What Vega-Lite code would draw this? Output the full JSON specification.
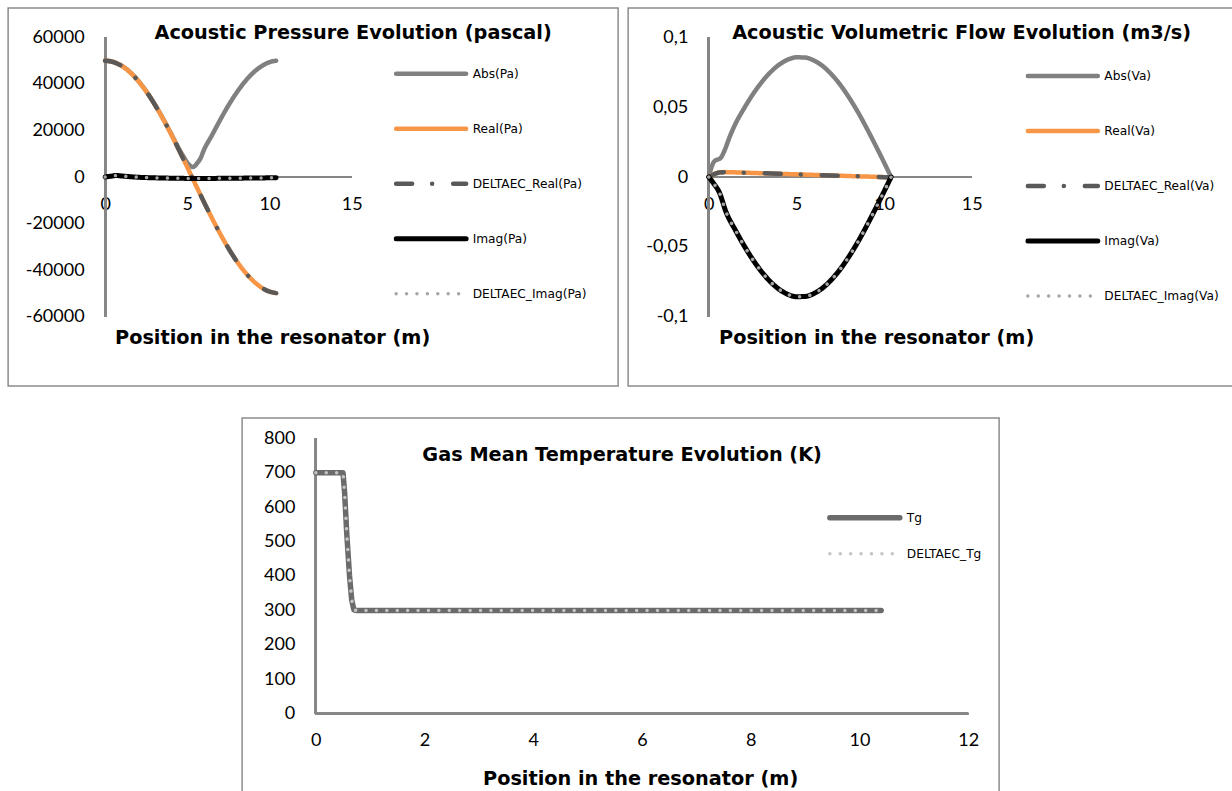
{
  "$schema": "https://vega.github.io/schema/vega-lite/v6.json",
  "padding": {"left": 7, "top": 7, "right": 0, "bottom": 0},
  "config": {
    "view": {"stroke": "#8c8c8c", "strokeWidth": 1.5},
    "font": "Lato",
    "axis": {"domain": false, "ticks": false, "tickSize": 0, "grid": false, "labelFont": "Lato", "labelFontSize": 18, "labelColor": "#000", "labelOverlap": false, "labelFlush": false, "titleFont": "DejaVu Sans", "titleFontSize": 19.3, "titleFontWeight": "bold", "titleColor": "#000", "titleAlign": "center", "titleBaseline": "middle"},
    "axisX": {"labelPadding": 18},
    "axisY": {"labelPadding": 21},
    "legend": {"orient": "none", "padding": 0, "symbolType": "stroke", "symbolSize": 4900, "clipHeight": 20, "labelFont": "DejaVu Sans", "labelFontSize": 12.2, "labelColor": "#000", "labelOffset": 4},
    "title": {"font": "DejaVu Sans", "fontSize": 19.3, "fontWeight": "bold", "color": "#000", "anchor": "middle", "baseline": "middle", "frame": "group"}
  },
  "datasets": {
    "pa": [
      {"x":0,"y":50100,"s":"Abs(Pa)"},{"x":0.5,"y":49550,"s":"Abs(Pa)"},{"x":1,"y":47900,"s":"Abs(Pa)"},{"x":1.5,"y":45200,"s":"Abs(Pa)"},{"x":2,"y":41500,"s":"Abs(Pa)"},{"x":2.5,"y":36900,"s":"Abs(Pa)"},{"x":3,"y":31500,"s":"Abs(Pa)"},{"x":3.5,"y":25400,"s":"Abs(Pa)"},{"x":4,"y":18800,"s":"Abs(Pa)"},{"x":4.5,"y":12000,"s":"Abs(Pa)"},{"x":4.8,"y":8400,"s":"Abs(Pa)"},{"x":5.0,"y":6100,"s":"Abs(Pa)"},{"x":5.15,"y":5000,"s":"Abs(Pa)"},{"x":5.3,"y":4300,"s":"Abs(Pa)"},{"x":5.45,"y":4700,"s":"Abs(Pa)"},{"x":5.6,"y":6000,"s":"Abs(Pa)"},{"x":5.8,"y":8000,"s":"Abs(Pa)"},{"x":6.0,"y":11500,"s":"Abs(Pa)"},{"x":6.5,"y":18000,"s":"Abs(Pa)"},{"x":7,"y":24600,"s":"Abs(Pa)"},{"x":7.5,"y":30800,"s":"Abs(Pa)"},{"x":8,"y":36300,"s":"Abs(Pa)"},{"x":8.5,"y":41000,"s":"Abs(Pa)"},{"x":9,"y":44800,"s":"Abs(Pa)"},{"x":9.5,"y":47600,"s":"Abs(Pa)"},{"x":10,"y":49400,"s":"Abs(Pa)"},{"x":10.4,"y":50000,"s":"Abs(Pa)"},
      {"x":0,"y":50000,"s":"Real(Pa)"},{"x":0.5,"y":49448,"s":"Real(Pa)"},{"x":1,"y":47804,"s":"Real(Pa)"},{"x":1.5,"y":45104,"s":"Real(Pa)"},{"x":2,"y":41409,"s":"Real(Pa)"},{"x":2.5,"y":36795,"s":"Real(Pa)"},{"x":3,"y":31369,"s":"Real(Pa)"},{"x":3.5,"y":25252,"s":"Real(Pa)"},{"x":4,"y":18583,"s":"Real(Pa)"},{"x":4.5,"y":11490,"s":"Real(Pa)"},{"x":5,"y":4161,"s":"Real(Pa)"},{"x":5.5,"y":-3268,"s":"Real(Pa)"},{"x":6,"y":-10626,"s":"Real(Pa)"},{"x":6.5,"y":-17747,"s":"Real(Pa)"},{"x":7,"y":-24478,"s":"Real(Pa)"},{"x":7.5,"y":-30679,"s":"Real(Pa)"},{"x":8,"y":-36188,"s":"Real(Pa)"},{"x":8.5,"y":-40886,"s":"Real(Pa)"},{"x":9,"y":-44658,"s":"Real(Pa)"},{"x":9.5,"y":-47504,"s":"Real(Pa)"},{"x":10,"y":-49299,"s":"Real(Pa)"},{"x":10.4,"y":-49936,"s":"Real(Pa)"},
      {"x":0,"y":50000,"s":"DELTAEC_Real(Pa)"},{"x":0.5,"y":49448,"s":"DELTAEC_Real(Pa)"},{"x":1,"y":47804,"s":"DELTAEC_Real(Pa)"},{"x":1.5,"y":45104,"s":"DELTAEC_Real(Pa)"},{"x":2,"y":41409,"s":"DELTAEC_Real(Pa)"},{"x":2.5,"y":36795,"s":"DELTAEC_Real(Pa)"},{"x":3,"y":31369,"s":"DELTAEC_Real(Pa)"},{"x":3.5,"y":25252,"s":"DELTAEC_Real(Pa)"},{"x":4,"y":18583,"s":"DELTAEC_Real(Pa)"},{"x":4.5,"y":11490,"s":"DELTAEC_Real(Pa)"},{"x":5,"y":4161,"s":"DELTAEC_Real(Pa)"},{"x":5.5,"y":-3268,"s":"DELTAEC_Real(Pa)"},{"x":6,"y":-10626,"s":"DELTAEC_Real(Pa)"},{"x":6.5,"y":-17747,"s":"DELTAEC_Real(Pa)"},{"x":7,"y":-24478,"s":"DELTAEC_Real(Pa)"},{"x":7.5,"y":-30679,"s":"DELTAEC_Real(Pa)"},{"x":8,"y":-36188,"s":"DELTAEC_Real(Pa)"},{"x":8.5,"y":-40886,"s":"DELTAEC_Real(Pa)"},{"x":9,"y":-44658,"s":"DELTAEC_Real(Pa)"},{"x":9.5,"y":-47504,"s":"DELTAEC_Real(Pa)"},{"x":10,"y":-49299,"s":"DELTAEC_Real(Pa)"},{"x":10.4,"y":-49936,"s":"DELTAEC_Real(Pa)"},
      {"x":0,"y":0,"s":"Imag(Pa)"},{"x":0.35,"y":350,"s":"Imag(Pa)"},{"x":0.7,"y":650,"s":"Imag(Pa)"},{"x":1.0,"y":450,"s":"Imag(Pa)"},{"x":1.5,"y":150,"s":"Imag(Pa)"},{"x":2,"y":-100,"s":"Imag(Pa)"},{"x":3,"y":-350,"s":"Imag(Pa)"},{"x":4,"y":-500,"s":"Imag(Pa)"},{"x":5,"y":-600,"s":"Imag(Pa)"},{"x":6,"y":-620,"s":"Imag(Pa)"},{"x":7,"y":-580,"s":"Imag(Pa)"},{"x":8,"y":-520,"s":"Imag(Pa)"},{"x":9,"y":-430,"s":"Imag(Pa)"},{"x":10,"y":-350,"s":"Imag(Pa)"},{"x":10.4,"y":-300,"s":"Imag(Pa)"},
      {"x":0,"y":0,"s":"DELTAEC_Imag(Pa)"},{"x":0.35,"y":350,"s":"DELTAEC_Imag(Pa)"},{"x":0.7,"y":650,"s":"DELTAEC_Imag(Pa)"},{"x":1.0,"y":450,"s":"DELTAEC_Imag(Pa)"},{"x":1.5,"y":150,"s":"DELTAEC_Imag(Pa)"},{"x":2,"y":-100,"s":"DELTAEC_Imag(Pa)"},{"x":3,"y":-350,"s":"DELTAEC_Imag(Pa)"},{"x":4,"y":-500,"s":"DELTAEC_Imag(Pa)"},{"x":5,"y":-600,"s":"DELTAEC_Imag(Pa)"},{"x":6,"y":-620,"s":"DELTAEC_Imag(Pa)"},{"x":7,"y":-580,"s":"DELTAEC_Imag(Pa)"},{"x":8,"y":-520,"s":"DELTAEC_Imag(Pa)"},{"x":9,"y":-430,"s":"DELTAEC_Imag(Pa)"},{"x":10,"y":-350,"s":"DELTAEC_Imag(Pa)"},{"x":10.4,"y":-300,"s":"DELTAEC_Imag(Pa)"}
    ],
    "va": [
      {"x":0,"y":0,"s":"Abs(Va)"},{"x":0.3,"y":0.011,"s":"Abs(Va)"},{"x":0.7,"y":0.014,"s":"Abs(Va)"},{"x":0.9,"y":0.019,"s":"Abs(Va)"},{"x":1.2,"y":0.029,"s":"Abs(Va)"},{"x":1.5,"y":0.0376,"s":"Abs(Va)"},{"x":2,"y":0.0489,"s":"Abs(Va)"},{"x":2.5,"y":0.059,"s":"Abs(Va)"},{"x":3,"y":0.0677,"s":"Abs(Va)"},{"x":3.5,"y":0.0749,"s":"Abs(Va)"},{"x":4,"y":0.0804,"s":"Abs(Va)"},{"x":4.5,"y":0.0841,"s":"Abs(Va)"},{"x":5,"y":0.0858,"s":"Abs(Va)"},{"x":5.5,"y":0.0856,"s":"Abs(Va)"},{"x":6,"y":0.0835,"s":"Abs(Va)"},{"x":6.5,"y":0.0795,"s":"Abs(Va)"},{"x":7,"y":0.0736,"s":"Abs(Va)"},{"x":7.5,"y":0.0661,"s":"Abs(Va)"},{"x":8,"y":0.057,"s":"Abs(Va)"},{"x":8.5,"y":0.0467,"s":"Abs(Va)"},{"x":9,"y":0.0352,"s":"Abs(Va)"},{"x":9.5,"y":0.023,"s":"Abs(Va)"},{"x":10,"y":0.0104,"s":"Abs(Va)"},{"x":10.4,"y":0,"s":"Abs(Va)"},
      {"x":0,"y":0,"s":"Real(Va)"},{"x":0.3,"y":0.002,"s":"Real(Va)"},{"x":0.6,"y":0.0033,"s":"Real(Va)"},{"x":0.9,"y":0.0035,"s":"Real(Va)"},{"x":2,"y":0.0031,"s":"Real(Va)"},{"x":4,"y":0.0023,"s":"Real(Va)"},{"x":6,"y":0.0015,"s":"Real(Va)"},{"x":8,"y":0.0007,"s":"Real(Va)"},{"x":10,"y":-0.0001,"s":"Real(Va)"},{"x":10.4,"y":-0.0003,"s":"Real(Va)"},
      {"x":0,"y":0,"s":"DELTAEC_Real(Va)"},{"x":0.3,"y":0.002,"s":"DELTAEC_Real(Va)"},{"x":0.6,"y":0.0033,"s":"DELTAEC_Real(Va)"},{"x":0.9,"y":0.0035,"s":"DELTAEC_Real(Va)"},{"x":2,"y":0.0031,"s":"DELTAEC_Real(Va)"},{"x":4,"y":0.0023,"s":"DELTAEC_Real(Va)"},{"x":6,"y":0.0015,"s":"DELTAEC_Real(Va)"},{"x":8,"y":0.0007,"s":"DELTAEC_Real(Va)"},{"x":10,"y":-0.0001,"s":"DELTAEC_Real(Va)"},{"x":10.4,"y":-0.0003,"s":"DELTAEC_Real(Va)"},
      {"x":0,"y":0,"s":"Imag(Va)"},{"x":0.3,"y":-0.005,"s":"Imag(Va)"},{"x":0.6,"y":-0.011,"s":"Imag(Va)"},{"x":1,"y":-0.0256,"s":"Imag(Va)"},{"x":1.5,"y":-0.0377,"s":"Imag(Va)"},{"x":2,"y":-0.0489,"s":"Imag(Va)"},{"x":2.5,"y":-0.059,"s":"Imag(Va)"},{"x":3,"y":-0.0677,"s":"Imag(Va)"},{"x":3.5,"y":-0.0749,"s":"Imag(Va)"},{"x":4,"y":-0.0804,"s":"Imag(Va)"},{"x":4.5,"y":-0.0841,"s":"Imag(Va)"},{"x":5,"y":-0.0858,"s":"Imag(Va)"},{"x":5.5,"y":-0.0856,"s":"Imag(Va)"},{"x":6,"y":-0.0835,"s":"Imag(Va)"},{"x":6.5,"y":-0.0795,"s":"Imag(Va)"},{"x":7,"y":-0.0736,"s":"Imag(Va)"},{"x":7.5,"y":-0.0661,"s":"Imag(Va)"},{"x":8,"y":-0.057,"s":"Imag(Va)"},{"x":8.5,"y":-0.0467,"s":"Imag(Va)"},{"x":9,"y":-0.0352,"s":"Imag(Va)"},{"x":9.5,"y":-0.023,"s":"Imag(Va)"},{"x":10,"y":-0.0104,"s":"Imag(Va)"},{"x":10.4,"y":0,"s":"Imag(Va)"},
      {"x":0,"y":0,"s":"DELTAEC_Imag(Va)"},{"x":0.3,"y":-0.005,"s":"DELTAEC_Imag(Va)"},{"x":0.6,"y":-0.011,"s":"DELTAEC_Imag(Va)"},{"x":1,"y":-0.0256,"s":"DELTAEC_Imag(Va)"},{"x":1.5,"y":-0.0377,"s":"DELTAEC_Imag(Va)"},{"x":2,"y":-0.0489,"s":"DELTAEC_Imag(Va)"},{"x":2.5,"y":-0.059,"s":"DELTAEC_Imag(Va)"},{"x":3,"y":-0.0677,"s":"DELTAEC_Imag(Va)"},{"x":3.5,"y":-0.0749,"s":"DELTAEC_Imag(Va)"},{"x":4,"y":-0.0804,"s":"DELTAEC_Imag(Va)"},{"x":4.5,"y":-0.0841,"s":"DELTAEC_Imag(Va)"},{"x":5,"y":-0.0858,"s":"DELTAEC_Imag(Va)"},{"x":5.5,"y":-0.0856,"s":"DELTAEC_Imag(Va)"},{"x":6,"y":-0.0835,"s":"DELTAEC_Imag(Va)"},{"x":6.5,"y":-0.0795,"s":"DELTAEC_Imag(Va)"},{"x":7,"y":-0.0736,"s":"DELTAEC_Imag(Va)"},{"x":7.5,"y":-0.0661,"s":"DELTAEC_Imag(Va)"},{"x":8,"y":-0.057,"s":"DELTAEC_Imag(Va)"},{"x":8.5,"y":-0.0467,"s":"DELTAEC_Imag(Va)"},{"x":9,"y":-0.0352,"s":"DELTAEC_Imag(Va)"},{"x":9.5,"y":-0.023,"s":"DELTAEC_Imag(Va)"},{"x":10,"y":-0.0104,"s":"DELTAEC_Imag(Va)"},{"x":10.4,"y":0,"s":"DELTAEC_Imag(Va)"}
    ],
    "tg": [
      {"x":0,"y":700,"s":"Tg"},{"x":0.5,"y":700,"s":"Tg"},{"x":0.53,"y":640,"s":"Tg"},{"x":0.57,"y":520,"s":"Tg"},{"x":0.62,"y":400,"s":"Tg"},{"x":0.66,"y":330,"s":"Tg"},{"x":0.7,"y":302,"s":"Tg"},{"x":0.74,"y":300,"s":"Tg"},{"x":10.4,"y":300,"s":"Tg"},
      {"x":0,"y":700,"s":"DELTAEC_Tg"},{"x":0.5,"y":700,"s":"DELTAEC_Tg"},{"x":0.53,"y":640,"s":"DELTAEC_Tg"},{"x":0.57,"y":520,"s":"DELTAEC_Tg"},{"x":0.62,"y":400,"s":"DELTAEC_Tg"},{"x":0.66,"y":330,"s":"DELTAEC_Tg"},{"x":0.7,"y":302,"s":"DELTAEC_Tg"},{"x":0.74,"y":300,"s":"DELTAEC_Tg"},{"x":10.4,"y":300,"s":"DELTAEC_Tg"}
    ]
  },
  "resolve": {"scale": {"color": "independent", "strokeDash": "independent", "strokeWidth": "independent"}, "legend": {"color": "independent", "strokeDash": "independent", "strokeWidth": "independent"}},
  "center": true,
  "spacing": 30,
  "vconcat": [
    {
      "spacing": 8,
      "resolve": {"scale": {"color": "independent", "strokeDash": "independent", "strokeWidth": "independent"}, "legend": {"color": "independent", "strokeDash": "independent", "strokeWidth": "independent"}},
      "hconcat": [
        {
          "width": 610, "height": 378,
          "title": {"text": "Acoustic Pressure Evolution (pascal)", "dx": 40, "offset": -35},
          "data": {"name": "pa"},
          "layer": [
            {"mark": {"type": "rule", "color": "#868686", "strokeWidth": 2},
             "encoding": {"x": {"datum": 0, "type": "quantitative", "scale": {"domain": [-5.9, 31.2], "nice": false, "zero": false}},
                          "y": {"datum": -60000, "type": "quantitative", "scale": {"domain": [-89892, 72688], "nice": false, "zero": false}},
                          "y2": {"datum": 60000}}},
            {"mark": {"type": "rule", "color": "#868686", "strokeWidth": 2},
             "encoding": {"x": {"datum": 0, "type": "quantitative", "scale": {"domain": [-5.9, 31.2], "nice": false, "zero": false}},
                          "x2": {"datum": 15},
                          "y": {"datum": 0, "type": "quantitative", "scale": {"domain": [-89892, 72688], "nice": false, "zero": false}}}},
            {"mark": {"type": "line", "interpolate": "monotone", "strokeCap": "round", "strokeJoin": "round"},
             "encoding": {
               "x": {"field": "x", "type": "quantitative", "scale": {"domain": [-5.9, 31.2], "nice": false, "zero": false},
                     "axis": {"orient": "bottom", "offset": -209, "values": [0, 5, 10, 15], "title": "Position in the resonator (m)", "titleX": 264, "titleY": 160}},
               "y": {"field": "y", "type": "quantitative", "scale": {"domain": [-89892, 72688], "nice": false, "zero": false},
                     "axis": {"orient": "left", "offset": -97, "values": [-60000, -40000, -20000, 0, 20000, 40000, 60000], "labelExpr": "toString(datum.value)", "title": null}},
               "color": {"field": "s", "type": "nominal",
                         "scale": {"domain": ["Abs(Pa)", "Real(Pa)", "DELTAEC_Real(Pa)", "Imag(Pa)", "DELTAEC_Imag(Pa)"], "range": ["#808080", "#f79646", "#595959", "#000000", "#a6a6a6"]},
                         "legend": {"title": null, "legendX": 385.5, "legendY": 55.7, "rowPadding": 35, "encode": {"symbols": {"update": {"strokeCap": {"value": "round"}}}}}},
               "strokeDash": {"field": "s", "type": "nominal",
                              "scale": {"domain": ["Abs(Pa)", "Real(Pa)", "DELTAEC_Real(Pa)", "Imag(Pa)", "DELTAEC_Imag(Pa)"], "range": [[1, 0], [1, 0], [16, 20, 0.01, 21], [1, 0], [0.01, 10.4]]},
                              "legend": {"title": null}},
               "strokeWidth": {"field": "s", "type": "nominal",
                               "scale": {"type": "ordinal", "domain": ["Abs(Pa)", "Real(Pa)", "DELTAEC_Real(Pa)", "Imag(Pa)", "DELTAEC_Imag(Pa)"], "range": [4.5, 4.5, 4.5, 5, 3.5]},
                               "legend": {"title": null}}
             }}
          ]
        },
        {
          "width": 605, "height": 378,
          "title": {"text": "Acoustic Volumetric Flow Evolution (m3/s)", "dx": 31, "offset": -35},
          "data": {"name": "va"},
          "layer": [
            {"mark": {"type": "rule", "color": "#868686", "strokeWidth": 2},
             "encoding": {"x": {"datum": 0, "type": "quantitative", "scale": {"domain": [-4.6, 29.91], "nice": false, "zero": false}},
                          "y": {"datum": -0.1, "type": "quantitative", "scale": {"domain": [-0.14982, 0.12115], "nice": false, "zero": false}},
                          "y2": {"datum": 0.1}}},
            {"mark": {"type": "rule", "color": "#868686", "strokeWidth": 2},
             "encoding": {"x": {"datum": 0, "type": "quantitative", "scale": {"domain": [-4.6, 29.91], "nice": false, "zero": false}},
                          "x2": {"datum": 15},
                          "y": {"datum": 0, "type": "quantitative", "scale": {"domain": [-0.14982, 0.12115], "nice": false, "zero": false}}}},
            {"mark": {"type": "line", "interpolate": "monotone", "strokeCap": "round", "strokeJoin": "round"},
             "encoding": {
               "x": {"field": "x", "type": "quantitative", "scale": {"domain": [-4.6, 29.91], "nice": false, "zero": false},
                     "axis": {"orient": "bottom", "offset": -209, "values": [0, 5, 10, 15], "title": "Position in the resonator (m)", "titleX": 248, "titleY": 160}},
               "y": {"field": "y", "type": "quantitative", "scale": {"domain": [-0.14982, 0.12115], "nice": false, "zero": false},
                     "axis": {"orient": "left", "offset": -80.7, "values": [-0.1, -0.05, 0, 0.05, 0.1], "labelExpr": "replace(toString(datum.value), '.', ',')", "title": null}},
               "color": {"field": "s", "type": "nominal",
                         "scale": {"domain": ["Abs(Va)", "Real(Va)", "DELTAEC_Real(Va)", "Imag(Va)", "DELTAEC_Imag(Va)"], "range": ["#808080", "#f79646", "#595959", "#000000", "#a6a6a6"]},
                         "legend": {"title": null, "legendX": 397.2, "legendY": 58, "rowPadding": 35, "encode": {"symbols": {"update": {"strokeCap": {"value": "round"}}}}}},
               "strokeDash": {"field": "s", "type": "nominal",
                              "scale": {"domain": ["Abs(Va)", "Real(Va)", "DELTAEC_Real(Va)", "Imag(Va)", "DELTAEC_Imag(Va)"], "range": [[1, 0], [1, 0], [16, 20, 0.01, 21], [1, 0], [0.01, 10.4]]},
                              "legend": {"title": null}},
               "strokeWidth": {"field": "s", "type": "nominal",
                               "scale": {"type": "ordinal", "domain": ["Abs(Va)", "Real(Va)", "DELTAEC_Real(Va)", "Imag(Va)", "DELTAEC_Imag(Va)"], "range": [4.5, 4.5, 4.5, 5, 3.5]},
                               "legend": {"title": null}}
             }}
          ]
        }
      ]
    },
    {
      "width": 757, "height": 374,
      "title": {"text": "Gas Mean Temperature Evolution (K)", "dx": 1.5, "offset": -47},
      "data": {"name": "tg"},
      "layer": [
        {"mark": {"type": "rule", "color": "#868686", "strokeWidth": 2},
         "encoding": {"x": {"datum": 0, "type": "quantitative", "scale": {"domain": [-1.356, 12.57], "nice": false, "zero": false}},
                      "y": {"datum": 0, "type": "quantitative", "scale": {"domain": [-227.45, 858.96], "nice": false, "zero": false}},
                      "y2": {"datum": 800}}},
        {"mark": {"type": "rule", "color": "#868686", "strokeWidth": 2},
         "encoding": {"x": {"datum": 0, "type": "quantitative", "scale": {"domain": [-1.356, 12.57], "nice": false, "zero": false}},
                      "x2": {"datum": 12},
                      "y": {"datum": 0, "type": "quantitative", "scale": {"domain": [-227.45, 858.96], "nice": false, "zero": false}}}},
        {"mark": {"type": "line", "strokeCap": "round", "strokeJoin": "round"},
         "encoding": {
           "x": {"field": "x", "type": "quantitative", "scale": {"domain": [-1.356, 12.57], "nice": false, "zero": false},
                 "axis": {"orient": "bottom", "offset": -78.3, "values": [0, 2, 4, 6, 8, 10, 12], "title": "Position in the resonator (m)", "titleX": 398, "titleY": 64.3}},
           "y": {"field": "y", "type": "quantitative", "scale": {"domain": [-227.45, 858.96], "nice": false, "zero": false},
                 "axis": {"orient": "left", "offset": -73.7, "values": [0, 100, 200, 300, 400, 500, 600, 700, 800], "labelExpr": "toString(datum.value)", "title": null}},
           "color": {"field": "s", "type": "nominal",
                     "scale": {"domain": ["Tg", "DELTAEC_Tg"], "range": ["#6b6b6b", "#c4c4c4"]},
                     "legend": {"title": null, "legendX": 584.7, "legendY": 89.7, "rowPadding": 16, "encode": {"symbols": {"update": {"strokeCap": {"value": "round"}}}}}},
           "strokeDash": {"field": "s", "type": "nominal",
                          "scale": {"domain": ["Tg", "DELTAEC_Tg"], "range": [[1, 0], [0.01, 10.4]]},
                          "legend": {"title": null}},
           "strokeWidth": {"field": "s", "type": "nominal",
                           "scale": {"type": "ordinal", "domain": ["Tg", "DELTAEC_Tg"], "range": [5.5, 3.5]},
                           "legend": {"title": null}}
         }}
      ]
    }
  ]
}
